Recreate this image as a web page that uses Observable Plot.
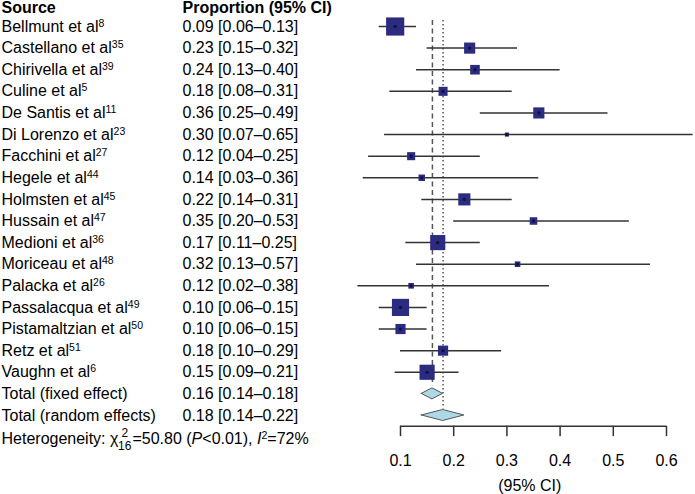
<!DOCTYPE html>
<html><head><meta charset="utf-8">
<script src="https://cdn.jsdelivr.net/npm/d3@7"></script>
<script src="https://cdn.jsdelivr.net/npm/@observablehq/plot@0.6"></script>
<style>body{margin:0;background:#fff} #chart svg{display:block}</style>
</head><body><div id="chart"></div>
<script>
// ---- data ----
const studies = ["Bellmunt et al^8","Castellano et al^35","Chirivella et al^39","Culine et al^5","De Santis et al^11","Di Lorenzo et al^23","Facchini et al^27","Hegele et al^44","Holmsten et al^45","Hussain et al^47","Medioni et al^36","Moriceau et al^48","Palacka et al^26","Passalacqua et al^49","Pistamaltzian et al^50","Retz et al^51","Vaughn et al^6"];
const proportion = [0.09,0.23,0.24,0.18,0.36,0.30,0.12,0.14,0.22,0.35,0.17,0.32,0.12,0.10,0.10,0.18,0.15];
const lower      = [0.06,0.15,0.13,0.08,0.25,0.07,0.04,0.03,0.14,0.20,0.11,0.13,0.02,0.06,0.06,0.10,0.09];
const upper      = [0.13,0.32,0.40,0.31,0.49,0.65,0.25,0.36,0.31,0.53,0.25,0.57,0.38,0.15,0.15,0.29,0.21];
const weights    = [15.7,5.9,4.4,3.9,5.9,0.8,3.1,2.0,7.0,2.7,10.9,1.5,1.5,14.0,4.9,4.9,10.9];
const totalLabels = ["Total (fixed effect)","Total (random effects)"];
const totalEst  = [0.16,0.18];
const totalLow  = [0.14,0.14];
const totalHigh = [0.18,0.22];
const xTicks = [0.1,0.2,0.3,0.4,0.5,0.6];
const heterogeneity = "Heterogeneity";

// ---- tables ----
const fmt = v => v.toFixed(2);
const studyRows = studies.map((s,i)=>({row:i,label:s,p:proportion[i],lo:lower[i],hi:upper[i],w:weights[i],
  ci:`${fmt(proportion[i])} [${fmt(lower[i])}–${fmt(upper[i])}]`}));
const nS = studies.length;
const totalRows = totalLabels.map((s,i)=>({row:nS+i,label:s,p:totalEst[i],lo:totalLow[i],hi:totalHigh[i],
  ci:`${fmt(totalEst[i])} [${fmt(totalLow[i])}–${fmt(totalHigh[i])}]`}));
const allRows = studyRows.concat(totalRows);
const halfH = 0.255; // diamond half height in row units
const diamondPts = totalRows.flatMap(d=>[
  {name:d.label,x:d.lo,y1:d.row,y2:d.row},
  {name:d.label,x:d.p,y1:d.row-halfH,y2:d.row+halfH},
  {name:d.label,x:d.hi,y1:d.row,y2:d.row}]);
const axisRow = nS + 2 - 0.5;
const font = "'Liberation Sans', Arial, sans-serif";
const sqColor = "#2b2b80";

const chart = Plot.plot({
  width:695, height:494, margin:0,
  x:{domain:[0.1,0.6], range:[400,666], axis:null},
  y:{domain:[0,18], range:[26, 26+18*21.61], axis:null},
  r:{type:"sqrt", domain:[0,16], range:[0,10.35]},
  style:{fontFamily:font, background:"#fff"},
  marks:[
    // reference lines
    Plot.ruleX([totalEst[0]], {y1:-0.28, y2:totalRows[0].row-halfH-0.1, stroke:"#555", strokeWidth:1.5, strokeDasharray:"5,3.5"}),
    Plot.ruleX([totalEst[1]], {y1:-0.28, y2:totalRows[1].row-halfH-0.05, stroke:"#555", strokeWidth:1.5, strokeDasharray:"1.5,2.5"}),
    // CIs
    Plot.ruleY(studyRows, {y:"row", x1:"lo", x2:"hi", stroke:"#333", strokeWidth:1.5}),
    Plot.dot(studyRows, {x:"p", y:"row", r:"w", symbol:"square", fill:sqColor, stroke:null}),
    Plot.dot(studyRows, {x:"p", y:"row", r:1.6, fill:"#10103a", stroke:null}),
    // diamonds
    Plot.areaY(diamondPts, {x:"x", y1:"y1", y2:"y2", z:"name", fill:"#add8e6", stroke:"#555", strokeWidth:1}),
    // axis
    Plot.ruleY([axisRow], {x1:xTicks[0], x2:xTicks[xTicks.length-1], stroke:"#333", strokeWidth:1.5}),
    Plot.ruleX(xTicks, {y1:axisRow, y2:axisRow+0.48, stroke:"#333", strokeWidth:1.5}),
    Plot.text(xTicks, {x:d=>d, y:axisRow+1.58, text:d=>String(d), fontSize:16, fill:"#000"}),
    Plot.text(["(95% CI)"], {x:0.343, y:axisRow+2.74, text:d=>d, fontSize:16, fill:"#000"}),
    // left columns
    Plot.text(["Source"], {y:-0.88, text:d=>d, frameAnchor:"left", textAnchor:"start", dx:1, fontSize:16, fontWeight:"bold", fill:"#000"}),
    Plot.text(["Proportion (95% CI)"], {y:-0.88, text:d=>d, frameAnchor:"left", textAnchor:"start", dx:182, fontSize:16, fontWeight:"bold", fill:"#000"}),
    Plot.text(allRows, {y:"row", text:"label", frameAnchor:"left", textAnchor:"start", dx:1, fontSize:16, fill:"#000"}),
    Plot.text(allRows, {y:"row", text:"ci", frameAnchor:"left", textAnchor:"start", dx:182, fontSize:16, fill:"#000"}),
    Plot.text([heterogeneity], {y:nS+2.06, text:d=>d, frameAnchor:"left", textAnchor:"start", dx:1, fontSize:16, fill:"#000"})
  ]
});

// ---- rich text post-processing ----
const NS = "http://www.w3.org/2000/svg";
function tsp(parent, txt, attrs={}) {
  const t = document.createElementNS(NS,"tspan");
  for (const k in attrs) t.setAttribute(k, attrs[k]);
  t.textContent = txt; parent.appendChild(t); return t;
}
chart.querySelectorAll("text").forEach(t=>{
  const s = t.textContent;
  if (s.includes("^")) {
    const [a,b] = s.split("^");
    t.textContent = a;
    tsp(t, b, {"font-size":"10.5", dy:"-5"});
  } else if (s === heterogeneity) {
    t.textContent = "Heterogeneity: χ";
    tsp(t, "2", {"font-size":"12", dx:"3", dy:"-7"});
    tsp(t, "16", {"font-size":"12", dx:"-10", dy:"14"});
    tsp(t, "=50.80 (", {dx:"1", dy:"-7"});
    tsp(t, "P", {"font-style":"italic"});
    tsp(t, "<0.01), ");
    tsp(t, "I", {"font-style":"italic"});
    tsp(t, "2", {"font-size":"10.5", dy:"-5"});
    tsp(t, "=72%", {dy:"5"});
  }
});
document.getElementById("chart").appendChild(chart);
</script>
</body></html>
